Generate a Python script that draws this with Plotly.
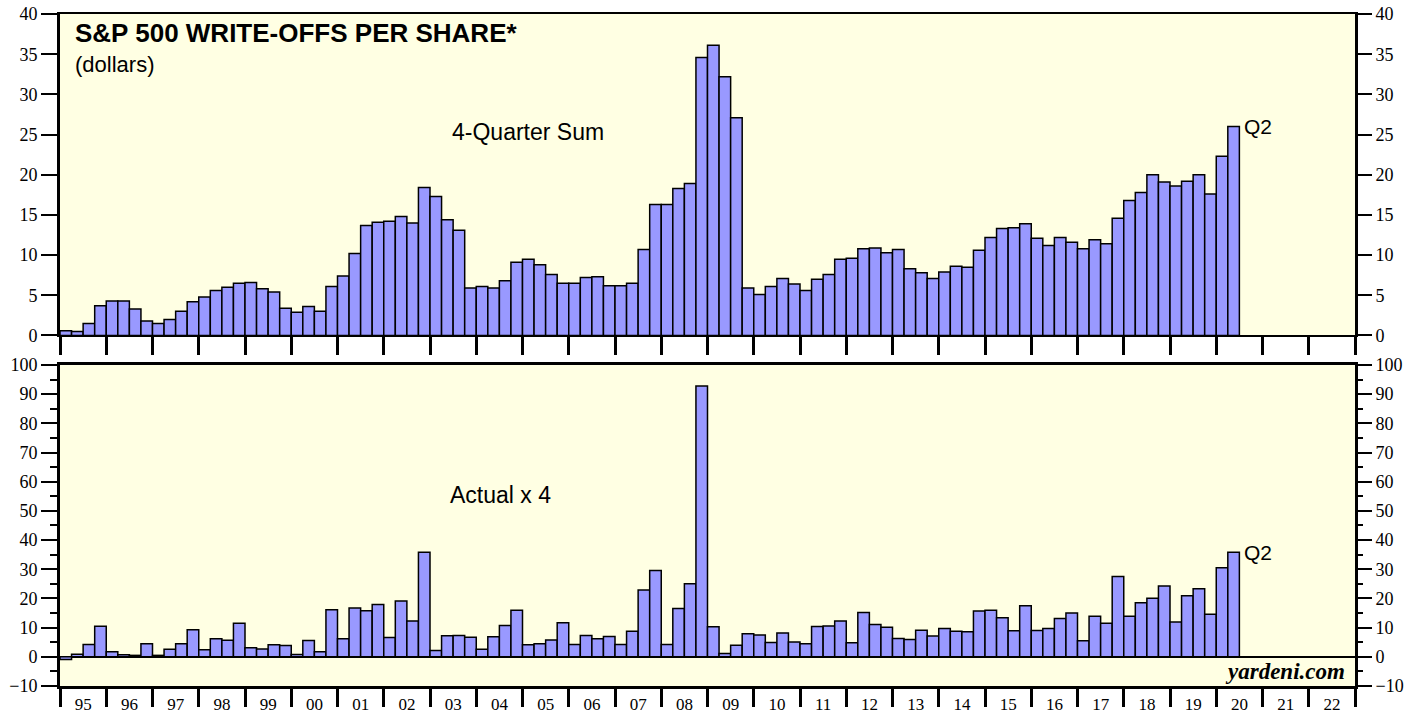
import plotly.graph_objects as go
from plotly.subplots import make_subplots

# ---------------- data (quarterly, 1995 Q1 .. 2020 Q2) ----------------
START_YEAR = 1995
SUM_4Q = [
    0.6, 0.5, 1.5, 3.7,      # 1995
    4.3, 4.3, 3.3, 1.8,      # 1996
    1.5, 2.0, 3.0, 4.2,      # 1997
    4.8, 5.6, 6.0, 6.5,      # 1998
    6.6, 5.8, 5.4, 3.4,      # 1999
    2.9, 3.6, 3.0, 6.1,      # 2000
    7.4, 10.2, 13.7, 14.1,   # 2001
    14.2, 14.8, 14.0, 18.4,  # 2002
    17.3, 14.4, 13.1, 5.9,   # 2003
    6.1, 5.9, 6.8, 9.1,      # 2004
    9.5, 8.8, 7.6, 6.5,      # 2005
    6.5, 7.2, 7.3, 6.2,      # 2006
    6.2, 6.5, 10.7, 16.3,    # 2007
    16.3, 18.3, 18.9, 34.6,  # 2008
    36.1, 32.2, 27.1, 5.9,   # 2009
    5.1, 6.1, 7.1, 6.4,      # 2010
    5.6, 7.0, 7.6, 9.5,      # 2011
    9.6, 10.8, 10.9, 10.3,   # 2012
    10.7, 8.3, 7.8, 7.1,     # 2013
    7.9, 8.6, 8.5, 10.6,     # 2014
    12.2, 13.3, 13.4, 13.9,  # 2015
    12.1, 11.2, 12.2, 11.6,  # 2016
    10.8, 11.9, 11.4, 14.6,  # 2017
    16.8, 17.8, 20.0, 19.1,  # 2018
    18.6, 19.2, 20.0, 17.6,  # 2019
    22.3, 26.0,              # 2020
]
ACTUAL_X4 = [
    -0.9, 0.9, 4.2, 10.5,    # 1995
    1.7, 0.7, 0.5, 4.5,      # 1996
    0.5, 2.6, 4.5, 9.3,      # 1997
    2.4, 6.2, 5.7, 11.5,     # 1998
    3.1, 2.7, 4.1, 3.9,      # 1999
    0.8, 5.6, 1.7, 16.1,     # 2000
    6.2, 16.7, 15.8, 17.9,   # 2001
    6.6, 19.1, 12.3, 35.8,   # 2002
    2.2, 7.2, 7.3, 6.7,      # 2003
    2.6, 6.9, 10.7, 16.0,    # 2004
    4.1, 4.5, 5.8, 11.7,     # 2005
    4.2, 7.3, 6.2, 7.0,      # 2006
    4.2, 8.8, 22.9, 29.6,    # 2007
    4.2, 16.6, 25.0, 92.8,   # 2008
    10.3, 1.1, 4.0, 7.9,     # 2009
    7.5, 4.9, 8.2, 5.1,      # 2010
    4.5, 10.4, 10.6, 12.3,   # 2011
    4.8, 15.2, 11.1, 10.1,   # 2012
    6.3, 5.9, 9.1, 7.1,      # 2013
    9.7, 8.8, 8.6, 15.7,     # 2014
    16.0, 13.4, 8.9, 17.5,   # 2015
    9.0, 9.7, 13.1, 15.0,    # 2016
    5.5, 13.9, 11.5, 27.5,   # 2017
    13.9, 18.5, 20.1, 24.3,  # 2018
    11.9, 20.9, 23.3, 14.6,  # 2019
    30.5, 35.8,              # 2020
]
YEAR_LABELS = ["95", "96", "97", "98", "99", "00", "01", "02", "03", "04",
               "05", "06", "07", "08", "09", "10", "11", "12", "13", "14",
               "15", "16", "17", "18", "19", "20", "21", "22"]
LAST_LABEL = "Q2"

# quarter centres on a continuous year scale
X = [START_YEAR + (i // 4) + ((i % 4) + 0.5) / 4 for i in range(len(SUM_4Q))]
X_MIN, X_MAX = START_YEAR, START_YEAR + len(YEAR_LABELS)
YEAR_CENTRES = [START_YEAR + k + 0.5 for k in range(len(YEAR_LABELS))]

BAR_FILL = "#9999FF"
BG = "#FFFFE3"
SERIF = "Liberation Serif, Times New Roman, serif"
SANS = "Liberation Sans, Arial, sans-serif"

fig = make_subplots(rows=2, cols=1, vertical_spacing=0.0)

bar_style = dict(marker=dict(color=BAR_FILL, line=dict(color="black", width=1.5)),
                 width=0.25, hoverinfo="skip", showlegend=False)
fig.add_trace(go.Bar(x=X, y=SUM_4Q, **bar_style), row=1, col=1)
fig.add_trace(go.Bar(x=X, y=ACTUAL_X4, **bar_style), row=2, col=1)

# invisible traces to carry right-hand y axes
fig.add_trace(go.Scatter(x=[None], y=[None], xaxis="x", yaxis="y3", showlegend=False, hoverinfo="skip"))
fig.add_trace(go.Scatter(x=[None], y=[None], xaxis="x2", yaxis="y4", showlegend=False, hoverinfo="skip"))

tickfont = dict(family=SERIF, size=18, color="black")

top_dom = [0.5216, 1.0]
bot_dom = [0.0, 0.4777]

yax_common = dict(ticks="outside", ticklen=16, tickwidth=2, tickcolor="black", automargin=False,
                  showgrid=False, tickfont=tickfont, ticklabeloverflow="allow", tickmode="linear")

fig.update_layout(
    width=1426, height=715,
    margin=dict(l=60, r=71, t=14, b=29, autoexpand=False),
    paper_bgcolor="white",
    plot_bgcolor=BG,
    bargap=0,
    hovermode=False,
    xaxis=dict(domain=[0, 1], range=[X_MIN, X_MAX], showgrid=False, zeroline=False,
               showline=True, linecolor="black", linewidth=2, mirror=True, automargin=False,
               tickmode="linear", tick0=X_MIN, dtick=1, ticks="outside", ticklen=18,
               tickwidth=3, tickcolor="black", showticklabels=False, anchor="y"),
    xaxis2=dict(domain=[0, 1], range=[X_MIN, X_MAX], showgrid=False, zeroline=False,
                showline=True, linecolor="black", linewidth=3, mirror=True, automargin=False,
                tickmode="array", tickvals=YEAR_CENTRES, ticktext=YEAR_LABELS,
                ticks="outside", ticklen=1, tickcolor="rgba(0,0,0,0)",
                tickfont=dict(family=SERIF, size=17, color="black"),
                anchor="y2", ticklabeloverflow="allow",
                minor=dict(tickmode="linear", tick0=X_MIN, dtick=1, ticks="outside",
                           ticklen=18, tickwidth=3, tickcolor="black", showgrid=False)),
    yaxis=dict(domain=top_dom, range=[0, 40], tick0=0, dtick=5,
               zeroline=False, showline=True, linecolor="black",
               linewidth=3, mirror=True, anchor="x", **yax_common),
    yaxis3=dict(domain=top_dom, range=[0, 40], tick0=0, dtick=5,
                zeroline=False, showline=False,
                side="right", overlaying="y", anchor="x", **yax_common),
    yaxis2=dict(domain=bot_dom, range=[-10, 100], tick0=0, dtick=10,
                zeroline=True, zerolinecolor="black", zerolinewidth=1.5,
                showline=True, linecolor="black", linewidth=3, mirror=True, anchor="x2",
                minor=dict(tickmode="linear", tick0=0, dtick=5, ticks="outside",
                           ticklen=7, tickwidth=2, tickcolor="black", showgrid=False),
                **yax_common),
    yaxis4=dict(domain=bot_dom, range=[-10, 100], tick0=0, dtick=10,
                zeroline=False, showline=False,
                side="right", overlaying="y2", anchor="x2",
                minor=dict(tickmode="linear", tick0=0, dtick=5, ticks="outside",
                           ticklen=7, tickwidth=2, tickcolor="black", showgrid=False),
                **yax_common),
)

ann = []
ann.append(dict(text="<b>S&P 500 WRITE-OFFS PER SHARE*</b>", xref="x domain", yref="y domain",
                x=0, y=0.942, xanchor="left", yanchor="middle", xshift=13, showarrow=False,
                font=dict(family=SANS, size=26, color="black")))
ann.append(dict(text="(dollars)", xref="x domain", yref="y domain",
                x=0, y=0.842, xanchor="left", yanchor="middle", xshift=13, showarrow=False,
                font=dict(family=SANS, size=22, color="black")))
ann.append(dict(text="4-Quarter Sum", xref="x", yref="y", x=2005.12, y=25.3,
                xanchor="center", yanchor="middle", showarrow=False,
                font=dict(family=SANS, size=23, color="black")))
ann.append(dict(text="Actual x 4", xref="x2", yref="y2", x=2004.53, y=55.4,
                xanchor="center", yanchor="middle", showarrow=False,
                font=dict(family=SANS, size=23, color="black")))
ann.append(dict(text=LAST_LABEL, xref="x", yref="y", x=X[-1] + 0.125, y=SUM_4Q[-1],
                xanchor="left", yanchor="middle", xshift=3, showarrow=False,
                font=dict(family=SANS, size=21, color="black")))
ann.append(dict(text=LAST_LABEL, xref="x2", yref="y2", x=X[-1] + 0.125, y=ACTUAL_X4[-1],
                xanchor="left", yanchor="middle", xshift=3, showarrow=False,
                font=dict(family=SANS, size=21, color="black")))
ann.append(dict(text="<b><i>yardeni.com</i></b>", xref="x2 domain", yref="y2", x=1, y=-5.2,
                xanchor="right", yanchor="middle", xshift=-8, showarrow=False,
                font=dict(family=SERIF, size=23, color="black")))
fig.update_layout(annotations=ann)

# remove the default 8px page margin so the figure sits at the window's top-left corner
fig.write_html("out.html", config={"displayModeBar": False, "staticPlot": True},
               post_script="document.body.style.margin='0';document.body.style.overflow='hidden';")
